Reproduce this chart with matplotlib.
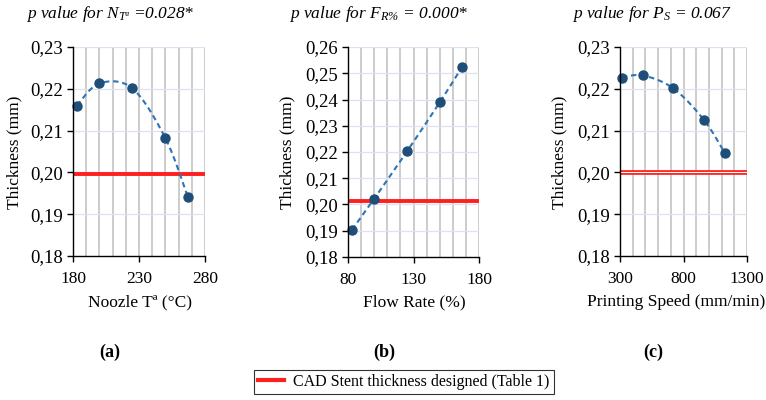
import numpy as np
import matplotlib
matplotlib.use("Agg")
import matplotlib.pyplot as plt
from matplotlib.lines import Line2D

plt.rcParams["font.family"] = ["Liberation Serif", "DejaVu Serif"]
plt.rcParams["mathtext.fontset"] = "custom"
plt.rcParams["mathtext.it"] = "Liberation Serif:italic"
plt.rcParams["mathtext.rm"] = "Liberation Serif:italic"

# Measured thickness for each process parameter
nozzle_temp = [183, 200, 225, 250, 267]
thick_nozzle = [0.2160, 0.2213, 0.2201, 0.2082, 0.1941]
cad_nozzle = 0.1995

flow_rate = [83, 100, 125, 150, 167]
thick_flow = [0.1903, 0.2022, 0.2202, 0.2389, 0.2523]
cad_flow = 0.2012

print_speed = [316, 480, 720, 960, 1124]
thick_speed = [0.2227, 0.2232, 0.2201, 0.2126, 0.2047]
cad_speed = 0.2000

titles = ["p value for $N_{Tª}$ =0.028*",
          "p value for $F_{R\\%}$ = 0.000*",
          "p value for $P_S$ = 0.067"]
xlabels = ["Noozle Tª (°C)", "Flow Rate (%)", "Printing Speed (mm/min)"]
panel_tags = ["(a)", "(b)", "(c)"]
legend_label = "CAD Stent thickness designed (Table 1)"

W, H = 766, 400
fig = plt.figure(figsize=(W / 100, H / 100), dpi=100)


def px_axes(l, r, t, b):
    return fig.add_axes([l / W, 1 - b / H, (r - l) / W, (b - t) / H])


def smooth_curve(ax, x, y, n=40):
    """Excel-style smoothed line: Catmull-Rom Bezier in display space."""
    trans = ax.transData
    pts = trans.transform(np.column_stack([x, y]))
    P = np.vstack([pts[0], pts, pts[-1]])
    out = []
    t = np.linspace(0, 1, n)[:, None]
    for i in range(1, len(P) - 2):
        p0, p1, p2, p3 = P[i - 1], P[i], P[i + 1], P[i + 2]
        b1 = p1 + (p2 - p0) / 6
        b2 = p2 - (p3 - p1) / 6
        seg = ((1 - t) ** 3) * p1 + 3 * ((1 - t) ** 2) * t * b1 \
            + 3 * (1 - t) * t ** 2 * b2 + t ** 3 * p2
        out.append(seg)
    out = np.vstack(out)
    return trans.inverted().transform(out)


panels = [
    dict(box=(73, 205, 47, 256), x=nozzle_temp, y=thick_nozzle, cad=cad_nozzle,
         xlim=(180, 280), xmaj=50, xmin=10, ylim=(0.18, 0.23), double=False,
         tcx=110, ylx=14, tagx=110, xlx=140, xlha="center"),
    dict(box=(348, 479, 47, 257), x=flow_rate, y=thick_flow, cad=cad_flow,
         xlim=(80, 180), xmaj=50, xmin=10, ylim=(0.18, 0.26), double=False,
         tcx=379, ylx=287, tagx=384, xlx=414, xlha="center"),
    dict(box=(620, 747, 47, 256), x=print_speed, y=thick_speed, cad=cad_speed,
         xlim=(300, 1300), xmaj=500, xmin=100, ylim=(0.18, 0.23), double=True,
         tcx=652, ylx=559, tagx=653, xlx=765, xlha="right"),
]

grid_v = "#c4c4c4"
grid_h = "#e0e0f0"
dash_col = "#2e75b6"
mark_col = "#1f4e79"
red = "#ff1f1f"

for i, p in enumerate(panels):
    l, r, t, b = p["box"]
    ax = px_axes(l, r, t, b)
    ax.set_xlim(*p["xlim"])
    ax.set_ylim(*p["ylim"])
    for s in ["top", "right"]:
        ax.spines[s].set_visible(False)
    for s in ["left", "bottom"]:
        ax.spines[s].set_color("black")
        ax.spines[s].set_linewidth(1.0)
        ax.spines[s].set_zorder(5)

    xs = np.arange(p["xlim"][0], p["xlim"][1] + 1e-9, p["xmin"])
    for xv in xs[1:]:
        ax.axvline(xv, color=grid_v, lw=1.2, zorder=0)
    ys = np.round(np.arange(p["ylim"][0], p["ylim"][1] + 1e-9, 0.01), 3)
    for yv in ys[1:]:
        ax.axhline(yv, color=grid_h, lw=0.9, zorder=0.5)

    ax.set_xticks(np.arange(p["xlim"][0], p["xlim"][1] + 1e-9, p["xmaj"]))
    ax.set_xticklabels([f"{v:.0f}" for v in ax.get_xticks()])
    ax.set_yticks(ys)
    ax.set_yticklabels([f"{v:.2f}".replace(".", ",") for v in ys])
    ax.tick_params(axis="y", direction="out", length=4, width=1, labelsize=13.5, pad=3)
    ax.tick_params(axis="x", direction="out", length=4, width=1, labelsize=12.5, pad=7)

    if p["double"]:
        ax.axhline(p["cad"], color=red, lw=3.4, zorder=2)
        ax.axhline(p["cad"], color="white", lw=0.8, zorder=2.1)
    else:
        ax.axhline(p["cad"], color=red, lw=2.8, zorder=2)

    fig.canvas.draw()
    sc = smooth_curve(ax, p["x"], p["y"])
    ax.plot(sc[:, 0], sc[:, 1], color=dash_col, lw=1.5, ls=(0, (2.6, 1.8)),
            zorder=3, clip_on=False)
    ax.plot(p["x"], p["y"], "o", color=mark_col, ms=6.5, zorder=4, clip_on=False)

    fig.text(p["xlx"] / W, 1 - 302 / H, xlabels[i], ha=p["xlha"], va="center",
             fontsize=12.5)
    fig.text(p["ylx"] / W, 1 - 152 / H, "Thickness (mm)", rotation=90,
             ha="center", va="center", fontsize=12.5)
    fig.text(p["tcx"] / W, 1 - 14 / H, titles[i], ha="center", va="center",
             fontsize=12.5, style="italic")
    fig.text(p["tagx"] / W, 1 - 352 / H, panel_tags[i], ha="center", va="center",
             fontsize=13, fontweight="bold")

handle = Line2D([0], [0], color=red, lw=3)
leg = fig.legend([handle], [legend_label], loc="center",
                 bbox_to_anchor=(404 / W, 1 - 382 / H), fontsize=11.5,
                 frameon=True, fancybox=False, handlelength=1.6,
                 handletextpad=0.6, borderpad=0.25, borderaxespad=0)
leg.get_frame().set_edgecolor("black")
leg.get_frame().set_linewidth(0.8)

fig.savefig("out.png", dpi=100)
